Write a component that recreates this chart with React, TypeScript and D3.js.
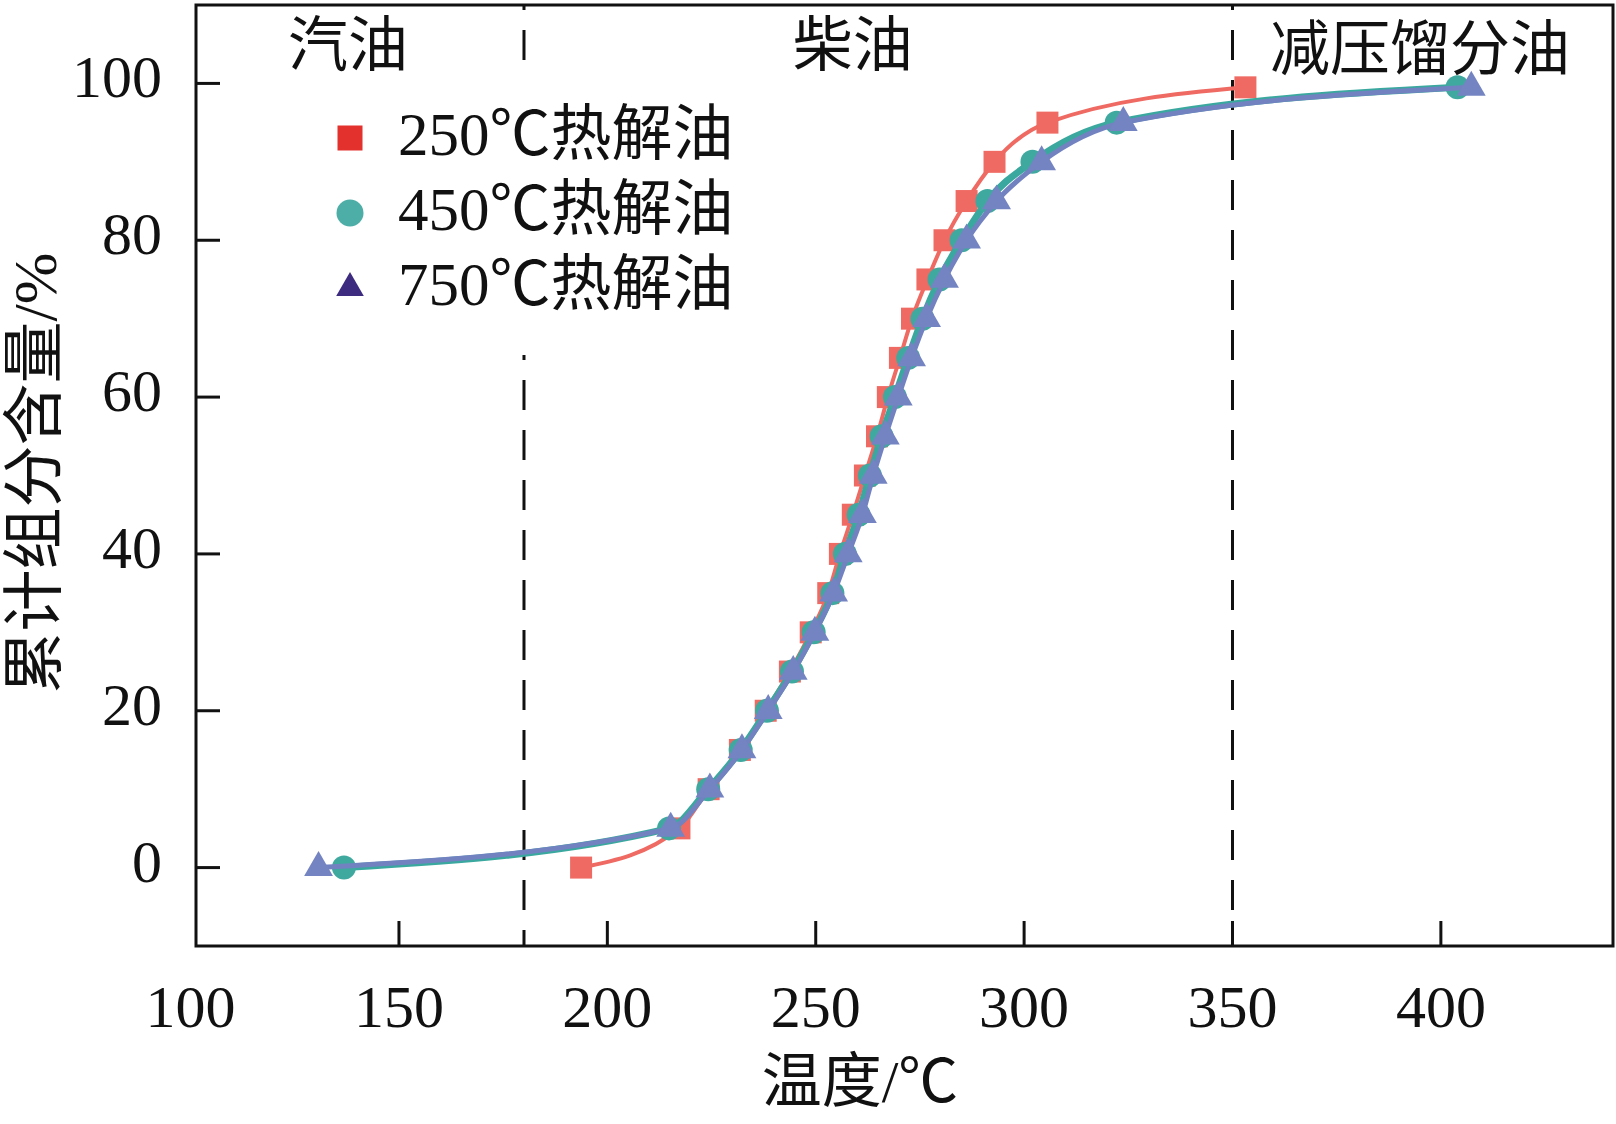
import React from "react";
import * as d3 from "d3";

const levels = [0, 5, 10, 15, 20, 25, 30, 35, 40, 45, 50, 55, 60, 65, 70, 75, 80, 85, 90, 95, 99.5];
const temp250 = [193.7, 217.3, 224.3, 231.8, 238.0, 243.8, 248.8, 253.0, 255.8, 258.9, 261.8, 264.7, 267.3, 270.2, 273.1, 276.8, 280.9, 286.2, 292.9, 305.6, 353.1];
const temp450 = [136.8, 214.8, 224.2, 232.0, 238.3, 244.3, 249.5, 254.0, 257.0, 260.3, 263.0, 265.8, 269.0, 272.2, 275.6, 279.7, 285.0, 291.2, 302.0, 322.2, 404.0];
const temp750 = [130.7, 215.2, 224.6, 232.3, 238.6, 244.6, 249.8, 254.3, 257.8, 261.2, 263.8, 266.7, 269.8, 273.0, 276.6, 280.9, 286.2, 293.4, 304.2, 323.8, 407.3];

const seriesNames = ["250℃热解油", "450℃热解油", "750℃热解油"];
const xTicks = [100, 150, 200, 250, 300, 350, 400];
const yTicks = [0, 20, 40, 60, 80, 100];
const boundaries = [180, 350];
const regionNames = ["汽油", "柴油", "减压馏分油"];
const regionCenters = [137.8, 258.9, 395];

const W = 1616;
const H = 1124;
const plot = { left: 196, right: 1613, top: 5, bottom: 946 };
const FONT = "'Liberation Serif', 'Noto Sans CJK SC', serif";

const x = d3.scaleLinear().domain([101.3, 441.3]).range([plot.left, plot.right]);
const y = d3.scaleLinear().domain([-10, 110]).range([plot.bottom, plot.top]);

const styles = [
  { line: "#ee6a62", lineWidth: 4, marker: "#ef6a62", legend: "#e3312d", shape: d3.symbolSquare, size: 22 * 22, legendSize: 25 * 25 },
  { line: "#3aa89e", lineWidth: 7, marker: "#3fa9a0", legend: "#4caea6", shape: d3.symbolCircle, size: Math.PI * 12 * 12, legendSize: Math.PI * 13.5 * 13.5 },
  { line: "#7282c0", lineWidth: 5, marker: "#7484c2", legend: "#3d2b7f", shape: d3.symbolTriangle, size: 360, legendSize: 330 },
];

const allTemps = [temp250, temp450, temp750];

export default function App() {
  const line = d3
    .line<[number, number]>()
    .x((d) => x(d[0]))
    .y((d) => y(d[1]))
    .curve(d3.curveMonotoneX);

  return (
    <svg
      width={W}
      height={H}
      style={{ position: "absolute", left: 0, top: 0, background: "#fff" }}
      fontFamily={FONT}
    >
      {/* boundaries between fractions */}
      {boundaries.map((b) => (
        <line
          key={b}
          x1={x(b)}
          x2={x(b)}
          y1={plot.top}
          y2={plot.bottom}
          stroke="#111"
          strokeWidth={3}
          strokeDasharray="30,20"
          strokeDashoffset={25}
        />
      ))}

      {/* series */}
      {allTemps.map((temps, i) => {
        const pts = temps.map((t, k) => [t, levels[k]] as [number, number]);
        const st = styles[i];
        const sym = d3.symbol().type(st.shape).size(st.size)();
        return (
          <g key={i}>
            <path d={line(pts) || ""} fill="none" stroke={st.line} strokeWidth={st.lineWidth} strokeLinejoin="round" />
            {pts.map((p, k) => (
              <path key={k} d={sym || ""} transform={`translate(${x(p[0])},${y(p[1])})`} fill={st.marker} />
            ))}
          </g>
        );
      })}

      {/* legend */}
      <rect x={322} y={80} width={436} height={275} fill="#fff" />
      {seriesNames.map((name, i) => {
        const st = styles[i];
        const base = 155 + i * 75;
        const sym = d3.symbol().type(st.shape).size(st.legendSize)();
        return (
          <g key={name}>
            <path d={sym || ""} transform={`translate(350,${base - 17})`} fill={st.legend} />
            <text x={398} y={base} fontSize={61} fill="#111">
              {name}
            </text>
          </g>
        );
      })}

      {/* region labels */}
      {regionNames.map((r, i) => (
        <text key={r} x={x(regionCenters[i])} y={i === 2 ? 70 : 66} fontSize={60} textAnchor="middle" fill="#111">
          {r}
        </text>
      ))}

      {/* frame */}
      <rect
        x={plot.left}
        y={plot.top}
        width={plot.right - plot.left}
        height={plot.bottom - plot.top}
        fill="none"
        stroke="#111"
        strokeWidth={3}
      />

      {/* x axis */}
      {xTicks.map((t) => (
        <g key={t}>
          {x(t) > plot.left + 2 && (
            <line x1={x(t)} x2={x(t)} y1={plot.bottom} y2={plot.bottom - 25} stroke="#111" strokeWidth={3} />
          )}
          <text x={x(t)} y={1027} fontSize={60} textAnchor="middle" fill="#111">
            {t}
          </text>
        </g>
      ))}
      <text x={860} y={1102} fontSize={60} textAnchor="middle" fill="#111">
        温度/℃
      </text>

      {/* y axis */}
      {yTicks.map((t) => (
        <g key={t}>
          <line x1={plot.left} x2={plot.left + 24} y1={y(t)} y2={y(t)} stroke="#111" strokeWidth={3} />
          <text x={162} y={y(t) + 14} fontSize={60} textAnchor="end" fill="#111">
            {t}
          </text>
        </g>
      ))}
      <text
        transform={`translate(56,${473}) rotate(-90)`}
        fontSize={62}
        textAnchor="middle"
        fill="#111"
      >
        累计组分含量/%
      </text>
    </svg>
  );
}
